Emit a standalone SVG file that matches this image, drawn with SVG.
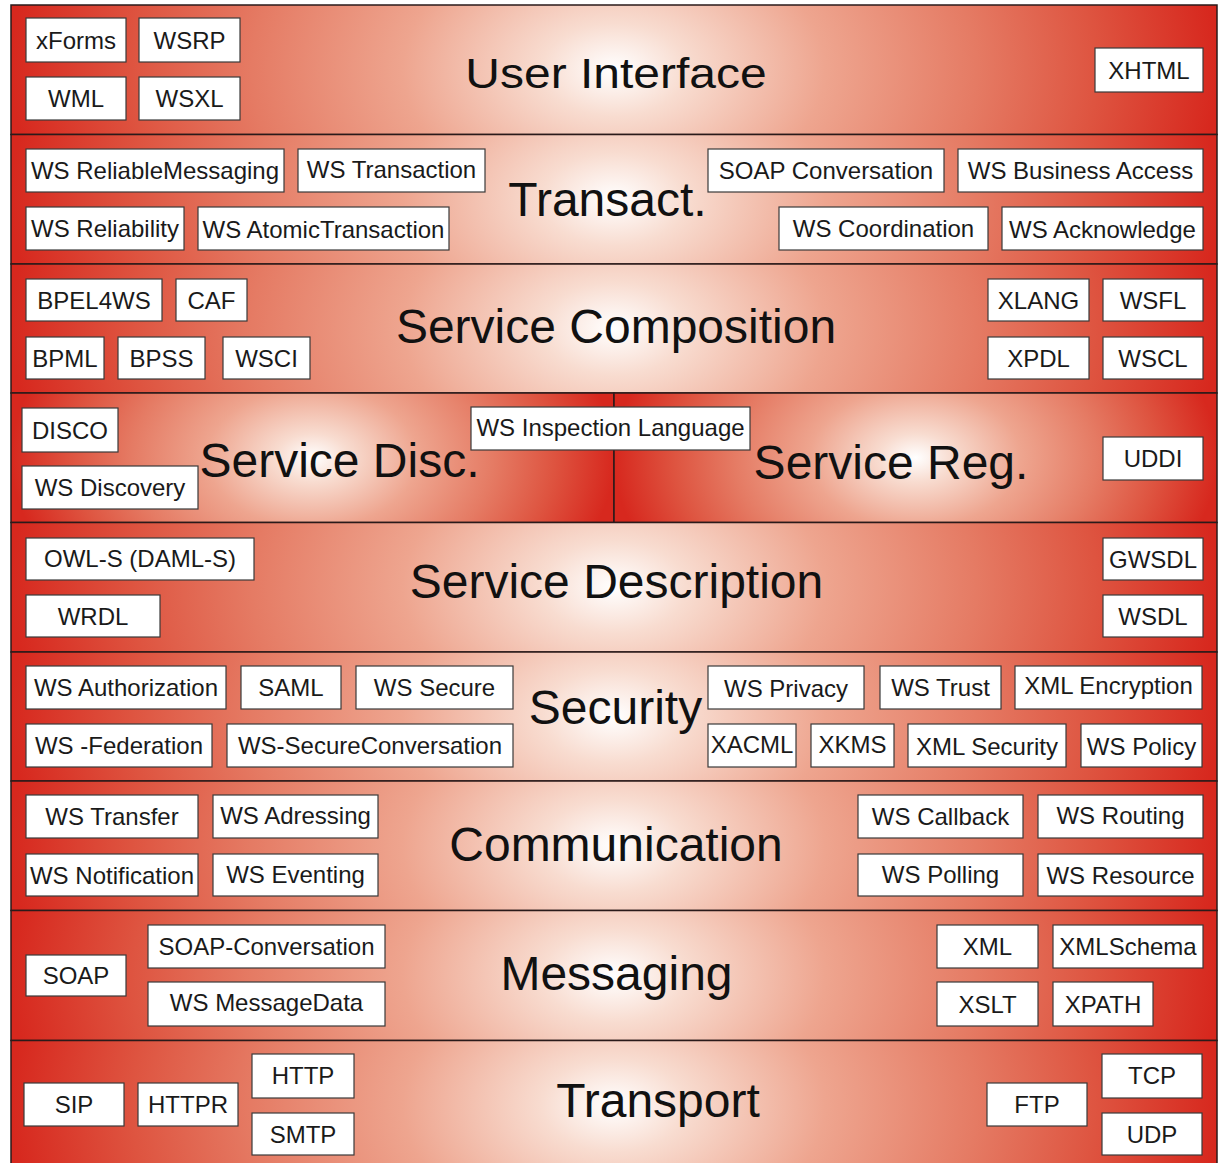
<svg xmlns="http://www.w3.org/2000/svg" width="1221" height="1163" viewBox="0 0 1221 1163">
<defs>
<radialGradient id="gFull" cx="0.5" cy="0.5" r="0.5" gradientTransform="translate(0.5 0.5) scale(1 6) translate(-0.5 -0.5)">
<stop offset="0" stop-color="#ffffff"/>
<stop offset="0.12" stop-color="#f8dcd0"/>
<stop offset="0.35" stop-color="#eea58f"/>
<stop offset="0.6" stop-color="#e57b64"/>
<stop offset="0.8" stop-color="#de5440"/>
<stop offset="1" stop-color="#d7281e"/>
</radialGradient>
<radialGradient id="gHalf" cx="0.5" cy="0.5" r="0.5" gradientTransform="translate(0.5 0.5) scale(1 3.1) translate(-0.5 -0.5)">
<stop offset="0" stop-color="#ffffff"/>
<stop offset="0.12" stop-color="#f8dcd0"/>
<stop offset="0.35" stop-color="#eea58f"/>
<stop offset="0.6" stop-color="#e57b64"/>
<stop offset="0.8" stop-color="#de5440"/>
<stop offset="1" stop-color="#d7281e"/>
</radialGradient>
</defs>
<style>
.band{stroke:#2a1a1a;stroke-width:1.5}
.node rect{fill:#ffffff;stroke:#3a3a3a;stroke-width:1.2}
.node text{font-family:"Liberation Sans",Arial,sans-serif;font-size:24px;fill:#1a1a1a;text-anchor:middle}
.title{font-family:"Liberation Sans",Arial,sans-serif;font-size:48px;fill:#111111;text-anchor:middle}
</style>
<rect width="1221" height="1163" fill="#ffffff"/>
<g id="layers">
<rect id="band-ui" class="band" x="11" y="5" width="1206" height="129.5" fill="url(#gFull)"/>
<rect id="band-transact" class="band" x="11" y="134.5" width="1206" height="129.5" fill="url(#gFull)"/>
<rect id="band-composition" class="band" x="11" y="264" width="1206" height="129" fill="url(#gFull)"/>
<rect id="band-disc" class="band" x="11" y="393" width="603" height="129.5" fill="url(#gHalf)"/>
<rect id="band-reg" class="band" x="614" y="393" width="603" height="129.5" fill="url(#gHalf)"/>
<rect id="band-description" class="band" x="11" y="522.5" width="1206" height="129.5" fill="url(#gFull)"/>
<rect id="band-security" class="band" x="11" y="652" width="1206" height="129" fill="url(#gFull)"/>
<rect id="band-communication" class="band" x="11" y="781" width="1206" height="129.5" fill="url(#gFull)"/>
<rect id="band-messaging" class="band" x="11" y="910.5" width="1206" height="130" fill="url(#gFull)"/>
<rect id="band-transport" class="band" x="11" y="1040.5" width="1206" height="130" fill="url(#gFull)"/>
</g>
<g id="titles">
<text class="title" transform="translate(616 88) scale(1 0.9)" x="0" y="0">User Interface</text>
<text class="title" x="607.5" y="216">Transact.</text>
<text class="title" x="616" y="343">Service Composition</text>
<text class="title" x="339.5" y="477">Service Disc.</text>
<text class="title" x="891" y="479">Service Reg.</text>
<text class="title" x="616.5" y="598">Service Description</text>
<text class="title" x="615.5" y="724">Security</text>
<text class="title" x="616" y="861">Communication</text>
<text class="title" x="616.5" y="990">Messaging</text>
<text class="title" x="658" y="1117">Transport</text>
</g>
<g id="connectors"></g>
<g id="nodes">
<g id="n-xforms" class="node"><rect x="26" y="18" width="100" height="44"/><text x="76" y="48.5">xForms</text></g>
<g id="n-wsrp" class="node"><rect x="139" y="18" width="101" height="44"/><text x="189.5" y="48.5">WSRP</text></g>
<g id="n-wml" class="node"><rect x="26" y="77" width="100" height="43"/><text x="76" y="107">WML</text></g>
<g id="n-wsxl" class="node"><rect x="139" y="77" width="101" height="43"/><text x="189.5" y="107">WSXL</text></g>
<g id="n-xhtml" class="node"><rect x="1095" y="48" width="108" height="44"/><text x="1149" y="78.5">XHTML</text></g>

<g id="n-wsrm" class="node"><rect x="26" y="149" width="258" height="43"/><text x="155" y="179">WS ReliableMessaging</text></g>
<g id="n-wstx" class="node"><rect x="298" y="149" width="187" height="43"/><text x="391.5" y="178">WS Transaction</text></g>
<g id="n-wsrel" class="node"><rect x="26" y="207" width="158" height="43"/><text x="105" y="237">WS Reliability</text></g>
<g id="n-wsat" class="node"><rect x="198" y="207" width="251" height="43"/><text x="323.5" y="238">WS AtomicTransaction</text></g>
<g id="n-soapconv" class="node"><rect x="708" y="149" width="236" height="43"/><text x="826" y="179">SOAP Conversation</text></g>
<g id="n-wsba" class="node"><rect x="958" y="149" width="245" height="43"/><text x="1080.5" y="179">WS Business Access</text></g>
<g id="n-wscoord" class="node"><rect x="779" y="207" width="209" height="43"/><text x="883.5" y="237">WS Coordination</text></g>
<g id="n-wsack" class="node"><rect x="1002" y="207" width="201" height="43"/><text x="1102.5" y="238">WS Acknowledge</text></g>

<g id="n-bpel" class="node"><rect x="26" y="279" width="136" height="42"/><text x="94" y="308.5">BPEL4WS</text></g>
<g id="n-caf" class="node"><rect x="176" y="279" width="71" height="42"/><text x="211.5" y="308.5">CAF</text></g>
<g id="n-bpml" class="node"><rect x="26" y="337" width="78" height="42"/><text x="65" y="366.5">BPML</text></g>
<g id="n-bpss" class="node"><rect x="118" y="337" width="87" height="42"/><text x="161.5" y="366.5">BPSS</text></g>
<g id="n-wsci" class="node"><rect x="223" y="337" width="87" height="42"/><text x="266.5" y="366.5">WSCI</text></g>
<g id="n-xlang" class="node"><rect x="988" y="279" width="101" height="42"/><text x="1038.5" y="308.5">XLANG</text></g>
<g id="n-wsfl" class="node"><rect x="1103" y="279" width="100" height="42"/><text x="1153" y="308.5">WSFL</text></g>
<g id="n-xpdl" class="node"><rect x="988" y="337" width="101" height="42"/><text x="1038.5" y="366.5">XPDL</text></g>
<g id="n-wscl" class="node"><rect x="1103" y="337" width="100" height="42"/><text x="1153" y="366.5">WSCL</text></g>

<g id="n-disco" class="node"><rect x="22" y="408" width="96" height="44"/><text x="70" y="438.5">DISCO</text></g>
<g id="n-wsdisc" class="node"><rect x="22" y="466" width="176" height="43"/><text x="110" y="496">WS Discovery</text></g>
<g id="n-wsil" class="node"><rect x="471" y="407" width="279" height="43"/><text x="610.5" y="436">WS Inspection Language</text></g>
<g id="n-uddi" class="node"><rect x="1103" y="437" width="100" height="43"/><text x="1153" y="467">UDDI</text></g>

<g id="n-owls" class="node"><rect x="26" y="538" width="228" height="42"/><text x="140" y="566.5">OWL-S (DAML-S)</text></g>
<g id="n-wrdl" class="node"><rect x="26" y="595" width="134" height="42"/><text x="93" y="624.5">WRDL</text></g>
<g id="n-gwsdl" class="node"><rect x="1103" y="538" width="100" height="42"/><text x="1153" y="567.5">GWSDL</text></g>
<g id="n-wsdl" class="node"><rect x="1103" y="595" width="100" height="42"/><text x="1153" y="624.5">WSDL</text></g>

<g id="n-wsauth" class="node"><rect x="26" y="666" width="200" height="43"/><text x="126" y="696">WS Authorization</text></g>
<g id="n-saml" class="node"><rect x="241" y="666" width="100" height="43"/><text x="291" y="696">SAML</text></g>
<g id="n-wssecure" class="node"><rect x="356" y="666" width="157" height="43"/><text x="434.5" y="696">WS Secure</text></g>
<g id="n-wsfed" class="node"><rect x="26" y="724" width="186" height="43"/><text x="119" y="754">WS -Federation</text></g>
<g id="n-wssc" class="node"><rect x="227" y="724" width="286" height="43"/><text x="370" y="754">WS-SecureConversation</text></g>
<g id="n-wspriv" class="node"><rect x="708" y="666" width="156" height="43"/><text x="786" y="697">WS Privacy</text></g>
<g id="n-wstrust" class="node"><rect x="880" y="666" width="121" height="43"/><text x="940.5" y="696">WS Trust</text></g>
<g id="n-xmlenc" class="node"><rect x="1015" y="666" width="187" height="43"/><text x="1108.5" y="694">XML Encryption</text></g>
<g id="n-xacml" class="node"><rect x="708" y="724" width="88" height="43"/><text x="752" y="753">XACML</text></g>
<g id="n-xkms" class="node"><rect x="811" y="724" width="83" height="43"/><text x="852.5" y="753">XKMS</text></g>
<g id="n-xmlsec" class="node"><rect x="908" y="724" width="158" height="43"/><text x="987" y="755">XML Security</text></g>
<g id="n-wspolicy" class="node"><rect x="1081" y="724" width="121" height="43"/><text x="1141.5" y="755">WS Policy</text></g>

<g id="n-wstransfer" class="node"><rect x="26" y="795" width="172" height="43"/><text x="112" y="825">WS Transfer</text></g>
<g id="n-wsaddr" class="node"><rect x="213" y="795" width="165" height="43"/><text x="295.5" y="824">WS Adressing</text></g>
<g id="n-wsnotif" class="node"><rect x="26" y="854" width="172" height="42"/><text x="112" y="883.5">WS Notification</text></g>
<g id="n-wsevent" class="node"><rect x="213" y="854" width="165" height="42"/><text x="295.5" y="882.5">WS Eventing</text></g>
<g id="n-wscallback" class="node"><rect x="858" y="795" width="165" height="43"/><text x="940.5" y="825">WS Callback</text></g>
<g id="n-wsrouting" class="node"><rect x="1038" y="795" width="165" height="43"/><text x="1120.5" y="824">WS Routing</text></g>
<g id="n-wspolling" class="node"><rect x="858" y="854" width="165" height="42"/><text x="940.5" y="882.5">WS Polling</text></g>
<g id="n-wsresource" class="node"><rect x="1038" y="854" width="165" height="42"/><text x="1120.5" y="883.5">WS Resource</text></g>

<g id="n-soap" class="node"><rect x="26" y="955" width="100" height="41"/><text x="76" y="984">SOAP</text></g>
<g id="n-soapconv2" class="node"><rect x="148" y="925" width="237" height="43"/><text x="266.5" y="955">SOAP-Conversation</text></g>
<g id="n-wsmd" class="node"><rect x="148" y="982" width="237" height="44"/><text x="266.5" y="1011">WS MessageData</text></g>
<g id="n-xml" class="node"><rect x="937" y="925" width="101" height="43"/><text x="987.5" y="955">XML</text></g>
<g id="n-xmlschema" class="node"><rect x="1053" y="925" width="150" height="43"/><text x="1128" y="955">XMLSchema</text></g>
<g id="n-xslt" class="node"><rect x="937" y="982" width="101" height="44"/><text x="987.5" y="1013">XSLT</text></g>
<g id="n-xpath" class="node"><rect x="1053" y="982" width="100" height="44"/><text x="1103" y="1013">XPATH</text></g>

<g id="n-sip" class="node"><rect x="24" y="1083" width="100" height="43"/><text x="74" y="1113">SIP</text></g>
<g id="n-httpr" class="node"><rect x="138" y="1083" width="100" height="43"/><text x="188" y="1113">HTTPR</text></g>
<g id="n-http" class="node"><rect x="252" y="1054" width="102" height="44"/><text x="303" y="1084">HTTP</text></g>
<g id="n-smtp" class="node"><rect x="252" y="1113" width="102" height="42"/><text x="303" y="1142.5">SMTP</text></g>
<g id="n-ftp" class="node"><rect x="987" y="1083" width="100" height="43"/><text x="1037" y="1113">FTP</text></g>
<g id="n-tcp" class="node"><rect x="1102" y="1054" width="100" height="44"/><text x="1152" y="1084">TCP</text></g>
<g id="n-udp" class="node"><rect x="1102" y="1113" width="100" height="42"/><text x="1152" y="1142.5">UDP</text></g>
</g>
</svg>
